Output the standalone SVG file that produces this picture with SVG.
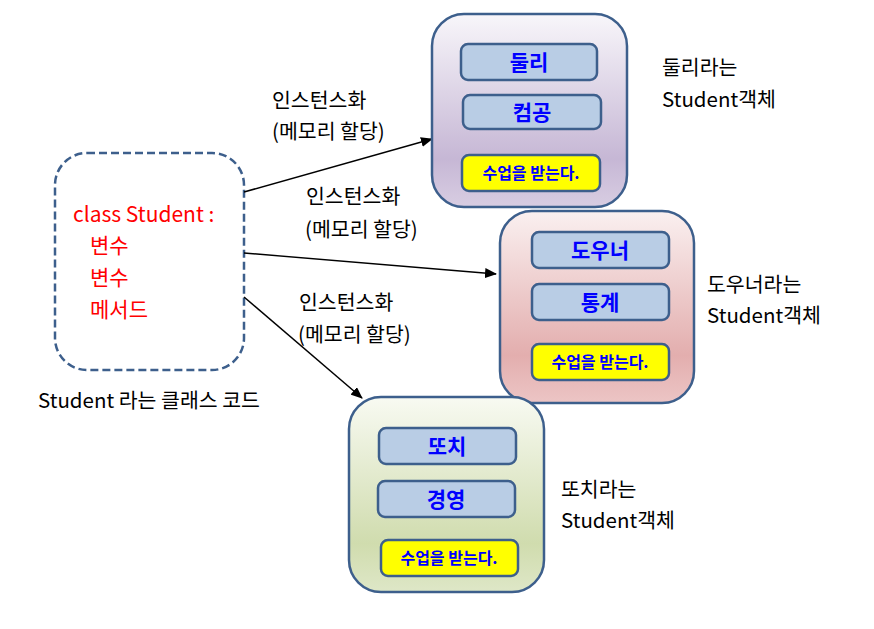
<svg xmlns="http://www.w3.org/2000/svg" width="874" height="629" viewBox="0 0 874 629">
<style>
.t{font-family:"Noto Sans CJK KR","Noto Sans",sans-serif;font-size:20.5px;fill:#000}
.red{fill:#ff0000;font-size:21px}
.nm{font-family:"Noto Sans CJK KR","Noto Sans",sans-serif;font-size:21px;font-weight:bold;fill:#0000ff;text-anchor:middle}
.act{font-family:"Noto Sans CJK KR","Noto Sans",sans-serif;font-size:16px;font-weight:bold;fill:#0000ff;text-anchor:middle}
.outer{stroke:#3d5f8c;stroke-width:2.5}
.inner{fill:#b9cde5;stroke:#3d5f8c;stroke-width:2.5}
.yel{fill:#ffff00;stroke:#3d5f8c;stroke-width:2.5}
.conn{stroke:#000;stroke-width:1.5;fill:none;marker-end:url(#ah)}
</style>
<defs>
<marker id="ah" markerWidth="12" markerHeight="10" refX="11" refY="5" orient="auto" markerUnits="userSpaceOnUse">
<path d="M0,0 L12,5 L0,10 Z" fill="#000"/>
</marker>
<linearGradient id="gp" x1="0" y1="0" x2="0" y2="1">
<stop offset="0" stop-color="#f8f6fa"/><stop offset="0.75" stop-color="#c6b7d5"/><stop offset="1" stop-color="#d8cde2"/>
</linearGradient>
<linearGradient id="gr" x1="0" y1="0" x2="0" y2="1">
<stop offset="0" stop-color="#faf0f0"/><stop offset="0.75" stop-color="#e3aeae"/><stop offset="1" stop-color="#ecc5c5"/>
</linearGradient>
<linearGradient id="gg" x1="0" y1="0" x2="0" y2="1">
<stop offset="0" stop-color="#f8faf2"/><stop offset="0.75" stop-color="#d0dcae"/><stop offset="1" stop-color="#dee7c7"/>
</linearGradient>
</defs>

<g id="class-node">
<rect x="55" y="153" width="189" height="217" rx="32" fill="#fff" stroke="#3d5f8c" stroke-width="2.5" stroke-dasharray="8,4"/>
<text class="t red" x="73" y="222">class Student :</text>
<text class="t red" x="90" y="253">변수</text>
<text class="t red" x="90" y="285">변수</text>
<text class="t red" x="90" y="317">메서드</text>
<text class="t" x="38" y="408">Student 라는 클래스 코드</text>
</g>

<g id="connectors">
<line class="conn" x1="244" y1="192" x2="432" y2="139"/>
<line class="conn" x1="244" y1="253" x2="496" y2="274"/>
<line class="conn" x1="244" y1="297" x2="362" y2="398"/>
<text class="t" x="272" y="108">인스턴스화</text>
<text class="t" x="272" y="139">(메모리 할당)</text>
<text class="t" x="306" y="204">인스턴스화</text>
<text class="t" x="305" y="237">(메모리 할당)</text>
<text class="t" x="299" y="310">인스턴스화</text>
<text class="t" x="298" y="342">(메모리 할당)</text>
</g>

<g id="obj-dooly">
<rect class="outer" x="432" y="14" width="195" height="193" rx="32" fill="url(#gp)"/>
<rect class="inner" x="461" y="44" width="136" height="36" rx="7"/>
<text class="nm" x="529" y="70">둘리</text>
<rect class="inner" x="463" y="95" width="138" height="34" rx="7"/>
<text class="nm" x="532" y="120">컴공</text>
<rect class="yel" x="462" y="155" width="138" height="36" rx="7"/>
<text class="act" x="531" y="179">수업을 받는다.</text>
<text class="t" x="662" y="75">둘리라는</text>
<text class="t" x="662" y="107">Student객체</text>
</g>

<g id="obj-douner">
<rect class="outer" x="500" y="211" width="194" height="192" rx="32" fill="url(#gr)"/>
<rect class="inner" x="532" y="232" width="137" height="36" rx="7"/>
<text class="nm" x="600" y="258">도우너</text>
<rect class="inner" x="532" y="284" width="137" height="36" rx="7"/>
<text class="nm" x="600" y="310">통계</text>
<rect class="yel" x="532" y="344" width="137" height="36" rx="7"/>
<text class="act" x="600" y="368">수업을 받는다.</text>
<text class="t" x="707" y="292">도우너라는</text>
<text class="t" x="707" y="323">Student객체</text>
</g>

<g id="obj-ddochi">
<rect class="outer" x="349" y="397" width="195" height="195" rx="32" fill="url(#gg)"/>
<rect class="inner" x="379" y="428" width="137" height="36" rx="7"/>
<text class="nm" x="447" y="454">또치</text>
<rect class="inner" x="378" y="481" width="137" height="36" rx="7"/>
<text class="nm" x="446" y="507">경영</text>
<rect class="yel" x="381" y="540" width="137" height="36" rx="7"/>
<text class="act" x="449" y="564">수업을 받는다.</text>
<text class="t" x="561" y="497">또치라는</text>
<text class="t" x="561" y="528">Student객체</text>
</g>
</svg>
